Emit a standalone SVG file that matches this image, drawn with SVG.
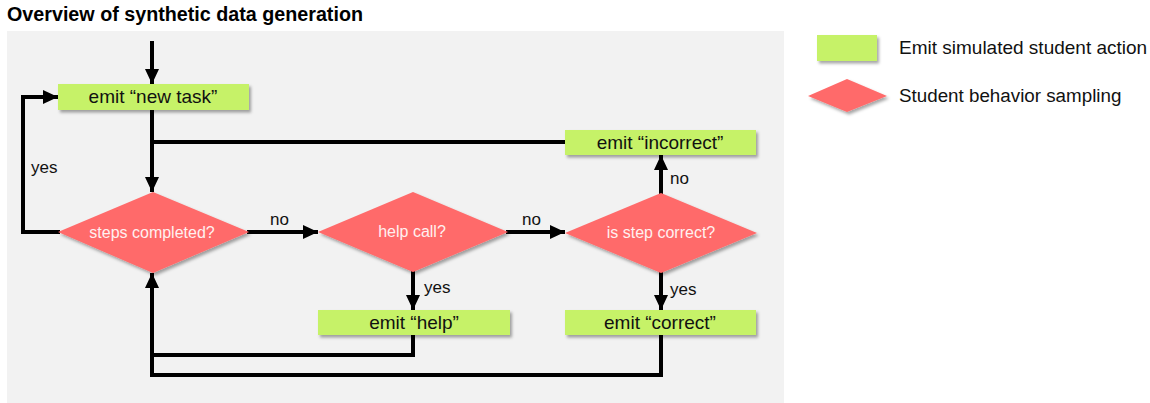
<svg xmlns="http://www.w3.org/2000/svg" width="1150" height="403" viewBox="0 0 1150 403">
  <defs>
    <marker id="arrow" viewBox="0 0 15 14" refX="15" refY="7" markerWidth="15" markerHeight="14" markerUnits="userSpaceOnUse" orient="auto">
      <path d="M0,0 L15,7 L0,14 Z" fill="#000"/>
    </marker>
    <filter id="shadow" x="-10%" y="-20%" width="130%" height="160%">
      <feDropShadow dx="2" dy="2.5" stdDeviation="1.5" flood-color="#000" flood-opacity="0.35"/>
    </filter>
  </defs>
  <style>
    .title { font-family: "Liberation Sans", Arial, sans-serif; font-weight: bold; font-size: 19.5px; fill: #000; }
    .action rect { fill: #C6F267; filter: url(#shadow); }
    .action text { font-family: "Liberation Sans", Arial, sans-serif; font-size: 19px; fill: #111; text-anchor: middle; }
    .decision polygon { fill: #FF6B6B; filter: url(#shadow); }
    .decision text { font-family: "Liberation Sans", Arial, sans-serif; font-size: 16px; fill: #FFF0F0; text-anchor: middle; }
    .edge { fill: none; stroke: #000; stroke-width: 4; stroke-linejoin: miter; }
    .lbl { font-family: "Liberation Sans", Arial, sans-serif; font-size: 17px; fill: #111; }
    .legend { font-family: "Liberation Sans", Arial, sans-serif; font-size: 18.8px; fill: #111; }
  </style>

  <text class="title" x="7" y="21" textLength="356" lengthAdjust="spacingAndGlyphs">Overview of synthetic data generation</text>

  <!-- canvas -->
  <rect x="7" y="31" width="777" height="372" fill="#F2F2F2"/>

  <!-- connectors -->
  <g id="connectors">
    <path class="edge" d="M152,41 V84" marker-end="url(#arrow)"/>
    <path class="edge" d="M60,232 H23 V97 H58" marker-end="url(#arrow)"/>
    <path class="edge" d="M152,110 V192" marker-end="url(#arrow)"/>
    <path class="edge" d="M566,142 H152"/>
    <path class="edge" d="M247,232 H318" marker-end="url(#arrow)"/>
    <path class="edge" d="M506,232 H565" marker-end="url(#arrow)"/>
    <path class="edge" d="M661,195 V155" marker-end="url(#arrow)"/>
    <path class="edge" d="M661,271 V310" marker-end="url(#arrow)"/>
    <path class="edge" d="M413,270 V310" marker-end="url(#arrow)"/>
    <path class="edge" d="M413,333 V355 H152"/>
    <path class="edge" d="M661,333 V375 H152 V273" marker-end="url(#arrow)"/>
    <text class="lbl" x="31" y="173">yes</text>
    <text class="lbl" x="270" y="225">no</text>
    <text class="lbl" x="522" y="225">no</text>
    <text class="lbl" x="670" y="184">no</text>
    <text class="lbl" x="424" y="293">yes</text>
    <text class="lbl" x="670" y="295">yes</text>
  </g>

  <!-- action nodes -->
  <g id="emit-new-task" class="action">
    <rect x="58" y="84" width="191" height="26"/>
    <text x="153" y="103">emit “new task”</text>
  </g>
  <g id="emit-incorrect" class="action">
    <rect x="565" y="130" width="191" height="25"/>
    <text x="660" y="149">emit “incorrect”</text>
  </g>
  <g id="emit-help" class="action">
    <rect x="318" y="310" width="192" height="25"/>
    <text x="414" y="329">emit “help”</text>
  </g>
  <g id="emit-correct" class="action">
    <rect x="565" y="310" width="191" height="25"/>
    <text x="660" y="329">emit “correct”</text>
  </g>

  <!-- decision nodes -->
  <g id="steps-completed" class="decision">
    <polygon points="58,232 153,192 249,232 153,273"/>
    <text x="152" y="238">steps completed?</text>
  </g>
  <g id="help-call" class="decision">
    <polygon points="318,232 413,192 508,232 413,272"/>
    <text x="412" y="237">help call?</text>
  </g>
  <g id="is-step-correct" class="decision">
    <polygon points="565,233 661,193 757,233 661,273"/>
    <text x="661" y="238">is step correct?</text>
  </g>

  <!-- legend -->
  <g id="legend-action" class="action">
    <rect x="817" y="35" width="60" height="26"/>
    <text class="legend" x="899" y="54" style="text-anchor:start">Emit simulated student action</text>
  </g>
  <g id="legend-decision" class="decision">
    <polygon points="808,96 847,79 887,96 847,112"/>
    <text class="legend" x="899" y="102" style="text-anchor:start;fill:#111;font-size:18.8px">Student behavior sampling</text>
  </g>
</svg>
